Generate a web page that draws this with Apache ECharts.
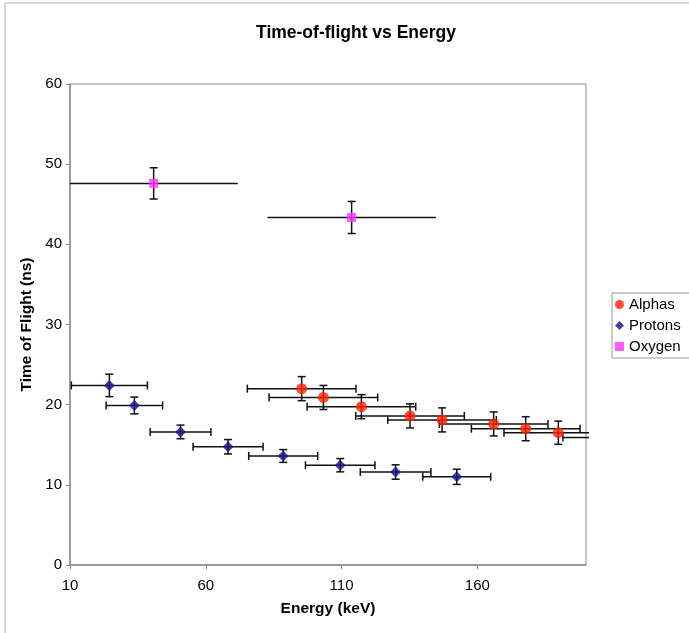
<!DOCTYPE html>
<html>
<head>
<meta charset="utf-8">
<script src="https://cdn.jsdelivr.net/npm/echarts@6/dist/echarts.min.js"></script>
<style>
html,body{margin:0;padding:0;background:#fff;}
#chart{width:689px;height:633px;}
</style>
</head>
<body>
<div id="chart"></div>
<script>
// ---- data ----
const seriesNames = ['Alphas', 'Protons', 'Oxygen'];

const alphaE    = [95.3, 103.3, 117.3, 135.2, 147.0, 166.0, 177.8, 189.8, 211.5];
const alphaT    = [22.0, 20.9, 19.75, 18.6, 18.1, 17.6, 17.0, 16.5, 15.9];
const alphaEErr = [20, 20, 20, 20, 20, 20, 20, 20, 20];
const alphaTErr = [1.5, 1.5, 1.5, 1.5, 1.5, 1.5, 1.5, 1.45, 1.5];

const protonE    = [24.5, 33.7, 50.7, 68.2, 88.5, 109.5, 129.9, 152.4];
const protonT    = [22.4, 19.9, 16.6, 14.75, 13.6, 12.45, 11.6, 11.0];
const protonEErr = [14, 10.4, 11.2, 12.9, 12.7, 12.8, 13, 12.5];
const protonTErr = [1.4, 1.05, 0.85, 0.9, 0.8, 0.83, 0.9, 0.95];

const oxygenE    = [40.8, 113.7];
const oxygenT    = [47.6, 43.35];
const oxygenEErr = [31, 31];
const oxygenTErr = [1.95, 2.0];

const xTicks = [10, 60, 110, 160];
const yTicks = [0, 10, 20, 30, 40, 50, 60];

// ---- build ----
function pts(E, T) { return E.map((e, i) => [e, T[i]]); }
function errRows(E, T, EE, TE) { return E.map((e, i) => [e, T[i], EE[i], TE[i]]); }

function makeErrRender(hCaps) {
  return function (params, api) {
    const cs = params.coordSys;
    const x = api.value(0), y = api.value(1), ex = api.value(2), ey = api.value(3);
    const c = api.coord([x, y]);
    const l = api.coord([x - ex, y]);
    const r = api.coord([x + ex, y]);
    const t = api.coord([x, y + ey]);
    const b = api.coord([x, y - ey]);
    const left = cs.x, right = cs.x + cs.width + 3;
    const style = { stroke: '#111', lineWidth: 1.5, fill: null };
    const children = [];
    const cap = 4;
    const lx = Math.max(l[0], left), rx = Math.min(r[0], right);
    if (rx > lx) {
      children.push({ type: 'line', shape: { x1: lx, y1: c[1], x2: rx, y2: c[1] }, style });
      if (hCaps) {
        if (l[0] >= left) children.push({ type: 'line', shape: { x1: l[0], y1: c[1] - cap, x2: l[0], y2: c[1] + cap }, style });
        if (r[0] <= right) children.push({ type: 'line', shape: { x1: r[0], y1: c[1] - cap, x2: r[0], y2: c[1] + cap }, style });
      }
    }
    if (c[0] >= cs.x && c[0] <= cs.x + cs.width) {
      children.push({ type: 'line', shape: { x1: c[0], y1: t[1], x2: c[0], y2: b[1] }, style });
      children.push({ type: 'line', shape: { x1: c[0] - cap, y1: t[1], x2: c[0] + cap, y2: t[1] }, style });
      children.push({ type: 'line', shape: { x1: c[0] - cap, y1: b[1], x2: c[0] + cap, y2: b[1] }, style });
    }
    return { type: 'group', children };
  };
}

const colors = ['#ff2200', '#14148c', '#ff33ff'];
const font = 'Liberation Sans, Arial, sans-serif';

const chart = echarts.init(document.getElementById('chart'), null, { renderer: 'canvas' });
chart.setOption({
  animation: false,
  backgroundColor: '#fff',
  textStyle: { fontFamily: font },
  title: {
    text: 'Time-of-flight vs Energy',
    left: 351, top: 19, textAlign: 'center',
    textStyle: { fontFamily: font, fontSize: 17.5, fontWeight: 'bold', color: '#000' }
  },
  graphic: [
    { type: 'line', shape: { x1: 5, y1: 3, x2: 689, y2: 3 }, style: { stroke: '#d4d4d4', lineWidth: 2 } },
    { type: 'line', shape: { x1: 5, y1: 3, x2: 5, y2: 633 }, style: { stroke: '#d4d4d4', lineWidth: 2 } }
  ],
  legend: {
    orient: 'vertical',
    left: 612, top: 293,
    padding: [4, 12, 4, 3],
    itemGap: 6,
    itemWidth: 9, itemHeight: 9,
    borderColor: '#999', borderWidth: 1,
    textStyle: { fontFamily: font, fontSize: 15, lineHeight: 15, color: '#000' },
    data: [
      { name: seriesNames[0], icon: 'circle' },
      { name: seriesNames[1], icon: 'diamond' },
      { name: seriesNames[2], icon: 'rect' }
    ]
  },
  grid: {
    left: 70, right: 103, top: 84, bottom: 68,
    show: true, borderColor: '#8c8c8c', borderWidth: 1, backgroundColor: '#fff'
  },
  xAxis: {
    type: 'value', min: 10, max: 200, interval: 50,
    name: 'Energy (keV)', nameLocation: 'middle', nameGap: 36,
    nameTextStyle: { fontFamily: font, fontSize: 15.5, fontWeight: 'bold', color: '#000' },
    axisLine: { lineStyle: { color: '#8c8c8c', width: 1.5 } },
    axisTick: { show: true, length: 4, lineStyle: { color: '#8c8c8c' },
      customValues: xTicks },
    axisLabel: { fontFamily: font, fontSize: 15, color: '#000', margin: 13,
      showMaxLabel: true, customValues: xTicks },
    splitLine: { show: false }
  },
  yAxis: {
    type: 'value', min: 0, max: 60, interval: 10,
    name: 'Time of Flight (ns)', nameLocation: 'middle', nameGap: 29,
    nameTextStyle: { fontFamily: font, fontSize: 15.5, fontWeight: 'bold', color: '#000' },
    axisLine: { show: true, lineStyle: { color: '#8c8c8c', width: 1.5 } },
    axisTick: { show: true, length: 4, lineStyle: { color: '#8c8c8c' }, customValues: yTicks },
    axisLabel: { fontFamily: font, fontSize: 15, color: '#000', margin: 8, customValues: yTicks },
    splitLine: { show: false }
  },
  series: [
    { name: 'aErr', type: 'custom', renderItem: makeErrRender(true), data: errRows(alphaE, alphaT, alphaEErr, alphaTErr), z: 2, silent: true },
    { name: 'pErr', type: 'custom', renderItem: makeErrRender(true), data: errRows(protonE, protonT, protonEErr, protonTErr), z: 2, silent: true },
    { name: 'oErr', type: 'custom', renderItem: makeErrRender(false), data: errRows(oxygenE, oxygenT, oxygenEErr, oxygenTErr), z: 2, silent: true },
    { name: seriesNames[0], type: 'scatter', symbol: 'circle', symbolSize: 11, data: pts(alphaE, alphaT), itemStyle: { color: colors[0] }, z: 3, clip: true },
    { name: seriesNames[1], type: 'scatter', symbol: 'diamond', symbolSize: 11, data: pts(protonE, protonT), itemStyle: { color: colors[1] }, z: 3, clip: true },
    { name: seriesNames[2], type: 'scatter', symbol: 'rect', symbolSize: 9, data: pts(oxygenE, oxygenT), itemStyle: { color: colors[2] }, z: 3, clip: true }
  ]
});
</script>
</body>
</html>
